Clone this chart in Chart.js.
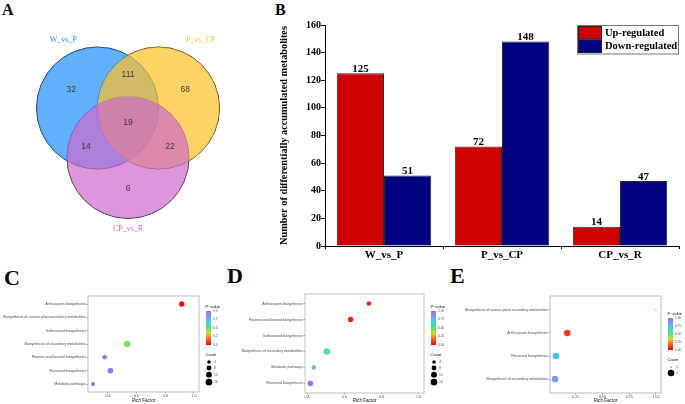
<!DOCTYPE html>
<html><head><meta charset="utf-8">
<script src="https://cdn.jsdelivr.net/npm/chart.js@4.4.1/dist/chart.umd.min.js"></script>
<style>
html,body{margin:0;padding:0;background:#fff}
body{width:685px;height:404px;position:relative;overflow:hidden}
canvas{position:absolute}
.lab{position:absolute;font-family:"Liberation Serif",serif;font-weight:bold;color:#000;line-height:1}
</style></head>
<body>
<div class="lab" style="left:2px;top:1.6px;font-size:16px">A</div>
<div class="lab" style="left:275px;top:1.6px;font-size:16px">B</div>
<div class="lab" style="left:4px;top:266.5px;font-size:22px">C</div>
<div class="lab" style="left:227px;top:264.5px;font-size:22px">D</div>
<div class="lab" style="left:450px;top:264.5px;font-size:22px">E</div>
<canvas id="venn" width="270" height="260" style="left:0;top:0"></canvas>
<canvas id="bar" width="415" height="265" style="left:270px;top:0"></canvas>
<canvas id="pc" width="225" height="119" style="left:0;top:285px"></canvas>
<canvas id="pd" width="225" height="119" style="left:225px;top:285px"></canvas>
<canvas id="pe" width="235" height="119" style="left:450px;top:285px"></canvas>
<script>
// ---------------- DATA ----------------
// Panel A (Venn)
const vennSetNames = ['W_vs_P', 'P_vs_CP', 'CP_vs_R'];
const vennCircleX = [-0.5, 0.5, 0.0];
const vennCircleY = [0.27, 0.27, -0.54];
const vennCircleR = [1, 1, 1];
const vennRegionCounts = [32, 111, 68, 19, 14, 22, 6];
const vennRegionX = [-0.93, 0.0, 0.94, 0.0, -0.69, 0.69, 0.0];
const vennRegionY = [0.57, 0.81, 0.57, 0.03, -0.37, -0.37, -1.05];
const vennNameX = [-1.06, 1.19, 0.0];
const vennNameY = [1.39, 1.39, -1.71];

// Panel B (bars)
const comparisons = ['W_vs_P', 'P_vs_CP', 'CP_vs_R'];
const upRegulated = [125, 72, 14];
const downRegulated = [51, 148, 47];
const barYTicks = [0, 20, 40, 60, 80, 100, 120, 140, 160];

// Panel C
const cPathways = ['Anthocyanin biosynthesis', 'Biosynthesis of various plant secondary metabolites', 'Isoflavonoid biosynthesis', 'Biosynthesis of secondary metabolites', 'Flavone and flavonol biosynthesis', 'Flavonoid biosynthesis', 'Metabolic pathways'];
const cRichFactor = [0.915, 1.0, 1.0, 0.534, 0.377, 0.417, 0.296];
const cPValue = [0.0, 0.38, 0.38, 0.45, 0.95, 0.95, 0.98];
const cCount = [10, 1, 1, 16, 7, 11, 5];
const cXTicks = [0.4, 0.6, 0.8, 1.0];
const cPLabels = ['1.0', '0.7', '0.5', '0.2', '0.0'];
const cCountBreaks = [4, 8, 12, 16];

// Panel D
const dPathways = ['Anthocyanin biosynthesis', 'Flavone and flavonol biosynthesis', 'Isoflavonoid biosynthesis', 'Biosynthesis of secondary metabolites', 'Metabolic pathways', 'Flavonoid biosynthesis'];
const dRichFactor = [0.733, 0.634, 1.0, 0.506, 0.436, 0.418];
const dPValue = [0.06, 0.05, 0.38, 0.55, 0.75, 0.95];
const dCount = [7, 10, 1, 16, 6, 11];
const dXTicks = [0.4, 0.6, 0.8, 1.0];
const dPLabels = ['1.00', '0.75', '0.50', '0.25', '0.00'];
const dCountBreaks = [4, 8, 12, 16];

// Panel E
const ePathways = ['Biosynthesis of various plant secondary metabolites', 'Anthocyanin biosynthesis', 'Flavonoid biosynthesis', 'Biosynthesis of secondary metabolites'];
const eRichFactor = [1.0, 0.17, 0.065, 0.056];
const ePValue = [0.03, 0.1, 0.72, 0.85];
const eCount = [1, 2, 2, 2];
const eXTicks = [0.25, 0.5, 0.75, 1.0];
const ePLabels = ['1.00', '0.75', '0.50', '0.25', '0.00'];
const eCountBreaks = [1, 2];

// ---------------- STYLE ----------------
const SERIF = '"Liberation Serif", serif';
const SANS = '"Liberation Sans", Arial, sans-serif';
const vennFill = ['rgba(30,144,255,0.7)', 'rgba(255,193,37,0.7)', 'rgba(205,105,201,0.7)'];
const vennNameColor = ['rgb(30,144,255)', 'rgb(255,193,37)', 'rgb(205,105,201)'];
const pStops = [[0, [255, 0, 0]], [0.2, [255, 110, 40]], [0.35, [190, 225, 40]], [0.5, [90, 225, 110]], [0.65, [60, 215, 215]], [0.8, [100, 170, 255]], [1, [180, 95, 255]]];
function pColor(p) {
  for (let i = 1; i < pStops.length; i++) {
    if (p <= pStops[i][0]) {
      const [a, ca] = pStops[i - 1], [b, cb] = pStops[i];
      const t = (p - a) / (b - a);
      return 'rgb(' + ca.map((v, k) => Math.round(v + (cb[k] - v) * t)).join(',') + ')';
    }
  }
  return 'rgb(' + pStops[pStops.length - 1][1].join(',') + ')';
}

// ---------------- PANEL A ----------------
const vennCanvas = document.getElementById('venn');
const vennXMin = -128 / 61, vennXMax = 142 / 61, vennYMin = -135.5 / 61, vennYMax = 124.5 / 61;
const vennPxPerUnit = vennCanvas.width / (vennXMax - vennXMin);
const vennText = {
  id: 'vennText',
  afterDatasetsDraw(chart) {
    const { ctx, scales: { x, y } } = chart;
    ctx.save();
    ctx.textAlign = 'center'; ctx.textBaseline = 'middle';
    ctx.font = '8.5px ' + SANS; ctx.fillStyle = '#3a3a3a';
    vennRegionCounts.forEach((c, i) => ctx.fillText(String(c), x.getPixelForValue(vennRegionX[i]), y.getPixelForValue(vennRegionY[i])));
    ctx.font = '8px ' + SERIF;
    vennSetNames.forEach((n, i) => { ctx.fillStyle = vennNameColor[i]; ctx.fillText(n, x.getPixelForValue(vennNameX[i]), y.getPixelForValue(vennNameY[i])); });
    ctx.restore();
  }
};
const vennPoints = () => vennCircleX.map((cx, i) => ({ x: cx, y: vennCircleY[i], r: vennCircleR[i] * vennPxPerUnit }));
new Chart(vennCanvas, {
  type: 'bubble',
  data: { datasets: [
    { data: vennPoints(), backgroundColor: vennFill, borderWidth: 0, clip: false },
    { data: vennPoints(), backgroundColor: 'rgba(0,0,0,0)', borderColor: '#111', borderWidth: 1, clip: false }
  ] },
  options: {
    responsive: false, animation: false, events: [],
    layout: { padding: 0, autoPadding: false },
    plugins: { legend: { display: false }, tooltip: { enabled: false } },
    scales: {
      x: { type: 'linear', display: false, min: vennXMin, max: vennXMax },
      y: { type: 'linear', display: false, min: vennYMin, max: vennYMax }
    }
  },
  plugins: [vennText]
});

// ---------------- PANEL B ----------------
const barValues = {
  id: 'barValues',
  afterDatasetsDraw(chart) {
    const ctx = chart.ctx;
    ctx.save();
    ctx.font = 'bold 11px ' + SERIF; ctx.fillStyle = '#000';
    ctx.textAlign = 'center'; ctx.textBaseline = 'alphabetic';
    chart.data.datasets.forEach((ds, di) => {
      chart.getDatasetMeta(di).data.forEach((el, i) => ctx.fillText(String(ds.data[i]), el.x, el.y - 1.5));
    });
    ctx.restore();
  }
};
const barLegend = {
  id: 'barLegend',
  afterDraw(chart) {
    const ctx = chart.ctx, ca = chart.chartArea;
    const x0 = ca.right - 102, y0 = ca.top, w = 101, h = 28.5;
    ctx.save();
    ctx.fillStyle = '#fff'; ctx.fillRect(x0, y0, w, h);
    ctx.strokeStyle = '#777'; ctx.lineWidth = 1; ctx.strokeRect(x0 + 0.5, y0 + 0.5, w, h);
    chart.data.datasets.forEach((ds, i) => {
      const ry = y0 + 1.5 + i * 13.4;
      ctx.fillStyle = ds.backgroundColor; ctx.fillRect(x0 + 1.5, ry, 23, 12.6);
      ctx.strokeStyle = '#222'; ctx.strokeRect(x0 + 1.5, ry, 23, 12.6);
      ctx.fillStyle = '#000'; ctx.font = 'bold 10.5px ' + SERIF;
      ctx.textAlign = 'left'; ctx.textBaseline = 'middle';
      ctx.fillText(ds.label, x0 + 28, ry + 6.8);
    });
    ctx.restore();
  }
};
new Chart(document.getElementById('bar'), {
  type: 'bar',
  data: { labels: comparisons, datasets: [
    { label: 'Up-regulated', data: upRegulated, backgroundColor: '#CC0000', borderColor: '#2a2a2a', borderWidth: 1, categoryPercentage: 0.8, barPercentage: 1 },
    { label: 'Down-regulated', data: downRegulated, backgroundColor: '#000080', borderColor: '#2a2a2a', borderWidth: 1, categoryPercentage: 0.8, barPercentage: 1 }
  ] },
  options: {
    responsive: false, animation: false, events: [],
    layout: { padding: { top: 25, right: 6, left: 0, bottom: 0 } },
    plugins: { legend: { display: false }, tooltip: { enabled: false } },
    scales: {
      x: {
        afterFit: (s) => { s.height = 19; },
        ticks: { font: { family: SERIF, weight: 'bold', size: 11 }, color: '#000', padding: 0, maxRotation: 0 },
        grid: { offset: true, drawOnChartArea: false, drawTicks: true, tickLength: 3, color: '#000' },
        border: { display: true, color: '#000', width: 1 }
      },
      y: {
        min: 0, max: 160,
        afterBuildTicks: (s) => { s.ticks = barYTicks.map((v) => ({ value: v })); },
        afterFit: (s) => { s.width = 55; },
        ticks: { font: { family: SERIF, weight: 'bold', size: 10 }, color: '#000', padding: 0 },
        grid: { drawOnChartArea: false, drawTicks: true, tickLength: 4, color: '#000' },
        border: { display: true, color: '#000', width: 1 },
        title: { display: true, text: 'Number of differentially accumulated metabolites', color: '#000',
          font: { family: SERIF, weight: 'bold', size: 10.3 }, padding: { top: 8.5, bottom: 0 } }
      }
    }
  },
  plugins: [barValues, barLegend]
});

// ---------------- PANELS C, D, E ----------------
const panelBox = {
  id: 'panelBox',
  afterDatasetsDraw(chart) {
    const ctx = chart.ctx, ca = chart.chartArea;
    ctx.save(); ctx.strokeStyle = '#b0b0b0'; ctx.lineWidth = 0.8;
    ctx.strokeRect(ca.left, ca.top, ca.right - ca.left, ca.bottom - ca.top);
    ctx.restore();
  }
};
const bubbleLegend = {
  id: 'bubbleLegend',
  afterDraw(chart, args, o) {
    const ctx = chart.ctx, ca = chart.chartArea;
    const bx = ca.right + o.dx, by = ca.top + o.dy, bw = 5, bh = o.bh;
    ctx.save();
    ctx.textAlign = 'left'; ctx.textBaseline = 'middle';
    ctx.fillStyle = '#000'; ctx.font = '4px ' + SANS;
    ctx.fillText('P\u2212value', bx - 0.5, by - 4.5);
    const g = ctx.createLinearGradient(0, by + bh, 0, by);
    pStops.forEach(([t, c]) => g.addColorStop(t, 'rgb(' + c.join(',') + ')'));
    ctx.fillStyle = g; ctx.fillRect(bx, by, bw, bh);
    ctx.font = '3.3px ' + SANS; ctx.fillStyle = '#4d4d4d';
    o.pLabels.forEach((t, i) => ctx.fillText(t, bx + bw + 2, by + bh * i / (o.pLabels.length - 1)));
    const ct = by + bh + 10;
    ctx.fillStyle = '#000'; ctx.font = '4px ' + SANS;
    ctx.fillText('Count', bx - 0.5, ct);
    let cy = ct + 7, prev = null;
    o.breaks.forEach((b) => {
      const r = o.rad(b);
      if (prev !== null) cy += Math.max(6, prev + r + 1.3);
      ctx.fillStyle = '#000';
      ctx.beginPath(); ctx.arc(bx + 3, cy, r, 0, Math.PI * 2); ctx.fill();
      ctx.font = '3.3px ' + SANS; ctx.fillStyle = '#4d4d4d';
      ctx.fillText(String(b), bx + 8, cy);
      prev = r;
    });
    ctx.restore();
  }
};
function makeBubble(id, pathways, rich, pval, count, xTicks, xDec, pLabels, breaks, st) {
  const cmin = Math.min(...count), cmax = Math.max(...count);
  const rad = (c) => 0.55 * (1 + 5 * Math.sqrt(Math.max(0, (c - cmin) / (cmax - cmin))));
  const xmin = Math.min(...rich), xmax = Math.max(...rich), ex = (xmax - xmin) * 0.05;
  const tickFont = { family: SANS, size: 3.6 };
  new Chart(document.getElementById(id), {
    type: 'bubble',
    data: { datasets: [{
      data: rich.map((x, i) => ({ x: x, y: i, r: rad(count[i]) })),
      backgroundColor: pval.map(pColor), borderWidth: 0, clip: false
    }] },
    options: {
      responsive: false, animation: false, events: [],
      layout: { padding: { top: st.top, right: st.right, left: 0, bottom: 0 }, autoPadding: false },
      plugins: { legend: { display: false }, tooltip: { enabled: false },
        bubbleLegend: { dx: 7, dy: st.ldy, bh: st.lbh, pLabels: pLabels, breaks: breaks, rad: rad } },
      scales: {
        x: {
          type: 'linear', min: xmin - ex, max: xmax + ex,
          afterBuildTicks: (s) => { s.ticks = xTicks.map((v) => ({ value: v })); },
          afterFit: (s) => { s.height = st.xh; },
          ticks: { callback: (v) => Number(v).toFixed(xDec), font: tickFont, color: '#4d4d4d', padding: 0.5, maxRotation: 0, autoSkip: false },
          grid: { drawOnChartArea: false, drawTicks: true, tickLength: 1.5, tickColor: '#444', lineWidth: 0.5 },
          border: { display: false },
          title: { display: true, text: 'Rich Factor', color: '#111', font: { family: SANS, size: 4.6 }, padding: { top: 0, bottom: 0.3 } }
        },
        y: {
          type: 'linear', reverse: true, min: -0.6, max: pathways.length - 0.4,
          afterBuildTicks: (s) => { s.ticks = pathways.map((_, i) => ({ value: i })); },
          afterFit: (s) => { s.width = st.yw; },
          ticks: { callback: (v) => pathways[v], font: tickFont, color: '#4d4d4d', padding: 0.8, autoSkip: false },
          grid: { drawOnChartArea: false, drawTicks: true, tickLength: 1.5, tickColor: '#444', lineWidth: 0.5 },
          border: { display: false }
        }
      }
    },
    plugins: [panelBox, bubbleLegend]
  });
}
makeBubble('pc', cPathways, cRichFactor, cPValue, cCount, cXTicks, 1, cPLabels, cCountBreaks,
  { top: 11, right: 26, yw: 88, xh: 12, ldy: 15, lbh: 34 });
makeBubble('pd', dPathways, dRichFactor, dPValue, dCount, dXTicks, 1, dPLabels, dCountBreaks,
  { top: 9, right: 26, yw: 80, xh: 11, ldy: 17, lbh: 34 });
makeBubble('pe', ePathways, eRichFactor, ePValue, eCount, eXTicks, 2, ePLabels, eCountBreaks,
  { top: 11, right: 24, yw: 100, xh: 11, ldy: 22, lbh: 32 });
</script>
</body></html>
